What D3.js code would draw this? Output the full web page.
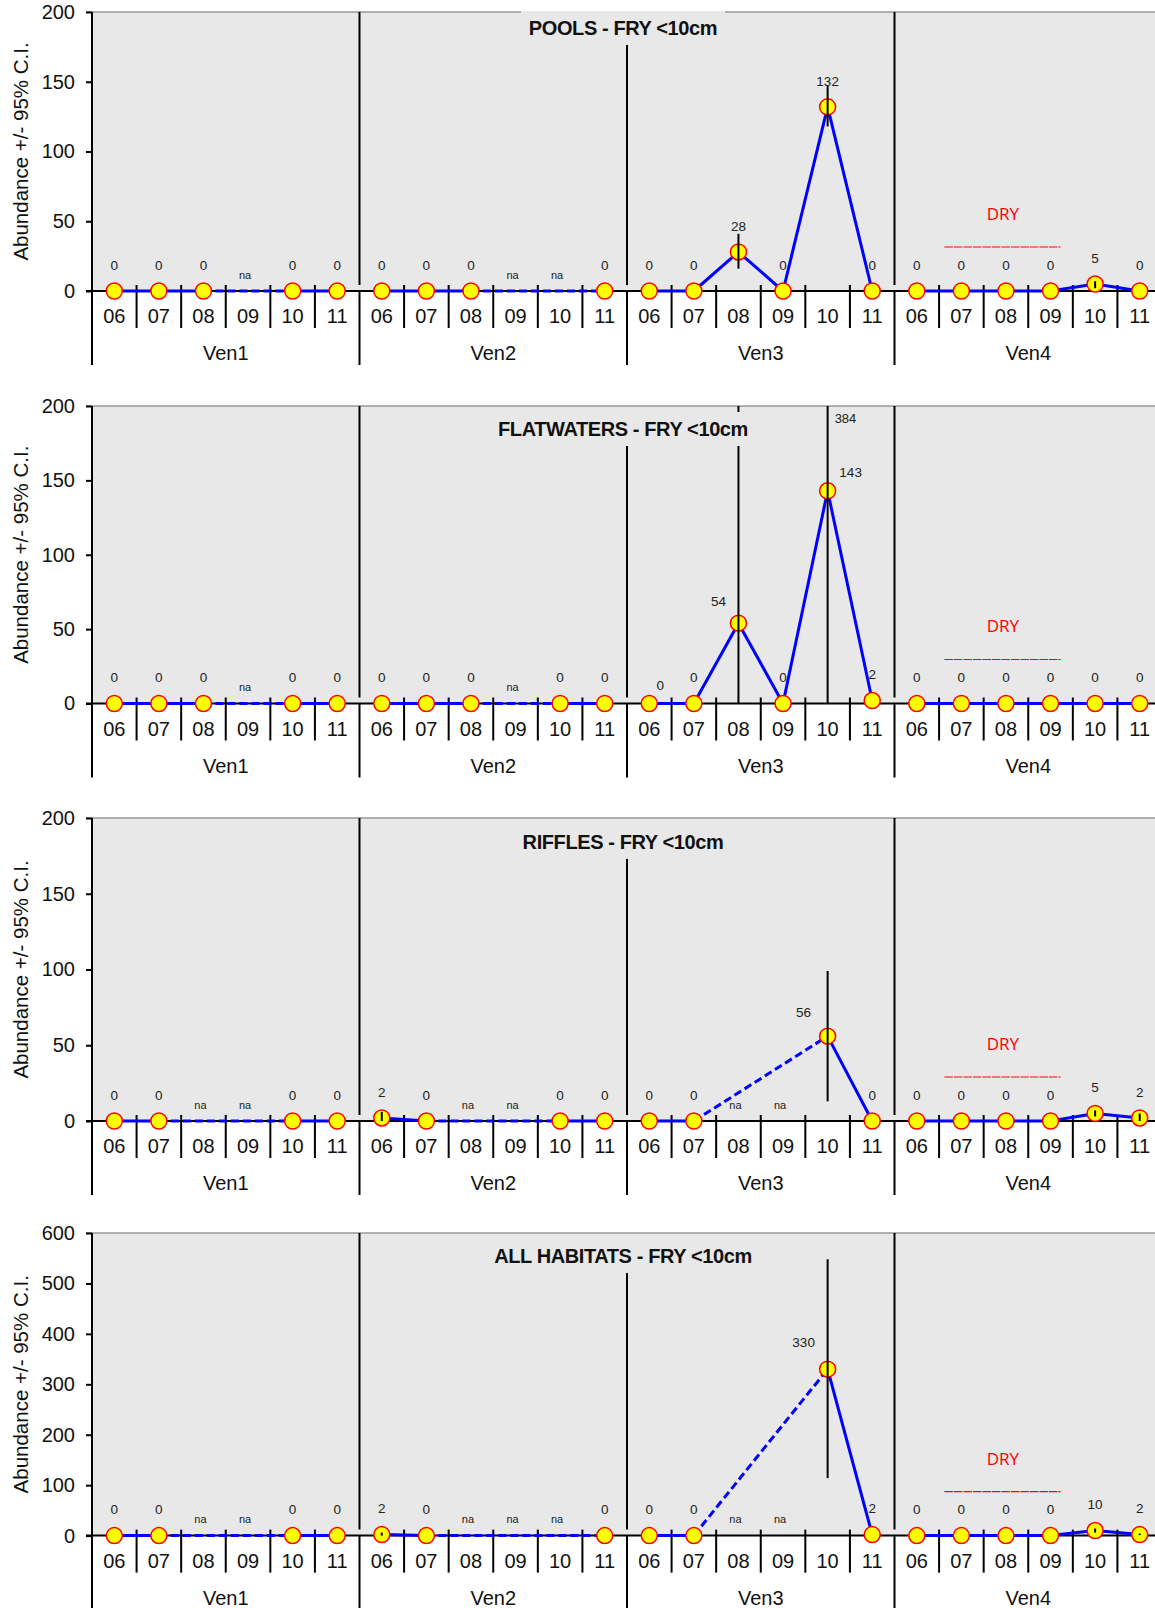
<!DOCTYPE html>
<html>
<head>
<meta charset="utf-8">
<script src="https://cdn.jsdelivr.net/npm/d3@7"></script>
<style>
body { margin: 0; background: #fff; }
svg { display: block; }
text { font-family: "Liberation Sans", Arial, sans-serif; }
</style>
</head>
<body>
<svg id="chart" width="1155" height="1608"></svg>
<script>
// ---- data ----
const sites = ["Ven1", "Ven2", "Ven3", "Ven4"];
const months = ["06", "07", "08", "09", "10", "11"];
const titles = ["POOLS - FRY <10cm", "FLATWATERS - FRY <10cm", "RIFFLES - FRY <10cm", "ALL HABITATS - FRY <10cm"];
const yMaxes = [200, 200, 200, 600];
const ySteps = [50, 50, 50, 100];

// abundance per site/month, null = na
const pools      = [0, 0, 0, null, 0, 0,   0, 0, 0, null, null, 0,     0, 0, 28, 0, 132, 0,        0, 0, 0, 0, 5, 0];
const flatwaters = [0, 0, 0, null, 0, 0,   0, 0, 0, null, 0, 0,        0, 0, 54, 0, 143, 2,        0, 0, 0, 0, 0, 0];
const riffles    = [0, 0, null, null, 0, 0, 2, 0, null, null, 0, 0,    0, 0, null, null, 56, 0,    0, 0, 0, 0, 5, 2];
const allHab     = [0, 0, null, null, 0, 0, 2, 0, null, null, null, 0, 0, 0, null, null, 330, 2,   0, 0, 0, 0, 10, 2];

// 95% C.I. : [index, lower, upper]
const poolsCI   = [[14, 16, 41], [16, 118, 147], [22, 2, 7]];
const flatCI    = [[14, -5, 215], [16, -10, 384]];
const rifflesCI = [[6, -1, 6], [16, 13, 99], [22, 3, 7], [23, -1, 5]];
const allCI     = [[6, 0, 6], [16, 114, 548], [22, 6, 14], [23, 1, 4]];

// upper limits that run off the chart get their value written at the top
const ciNotes = [[1, 16, "384"]];
// Ven4 07..09 dry
const dryRange = [19, 21];

// ---- layout ----
const W = 1155;
const x0 = 92, x1 = 1162;
const panelTop  = [12, 406, 818, 1233];
const panelZero = [291, 703.5, 1121, 1535.6];
const titleDy   = [16, 23, 24, 23];
// hand-placed data labels in the original: "panel-index": [dx, dy]
const labelNudge = { "1-12": [11, 8], "1-14": [-20, 4], "1-16": [23, 7], "2-16": [-24, 2], "3-16": [-24, -1] };

const valueSets = [pools, flatwaters, riffles, allHab];
const ciSets = [poolsCI, flatCI, rifflesCI, allCI];

const svg = d3.select("#chart");
const idx = d3.range(sites.length * months.length);
const x = d3.scaleBand().domain(idx).range([x0, x1]).padding(0);
const bw = x.bandwidth();
const cx = i => x(i) + bw / 2;

valueSets.forEach((values, p) => {
    const top = panelTop[p], zero = panelZero[p];
    const ty = top + titleDy[p];
    const y = d3.scaleLinear().domain([0, yMaxes[p]]).range([zero, top]);
    const g = svg.append("g").attr("class", "panel");

    // plot background + top border
    g.append("rect")
        .attr("x", x0).attr("y", top)
        .attr("width", x1 - x0).attr("height", zero - top)
        .attr("fill", "#e8e8e8");
    g.append("line")
        .attr("x1", x0 - 6).attr("x2", W)
        .attr("y1", top).attr("y2", top)
        .attr("stroke", "#999").attr("stroke-width", 1.5);

    // y axis
    const yAxis = d3.axisLeft(y)
        .tickValues(d3.range(0, yMaxes[p] + 1, ySteps[p]))
        .tickSize(6).tickPadding(11);
    const ya = g.append("g").attr("transform", `translate(${x0},0)`).call(yAxis);
    ya.select(".domain").remove();
    ya.selectAll(".tick line").attr("stroke", "#000").attr("stroke-width", 2);
    ya.selectAll(".tick text")
        .attr("font-size", 20).attr("fill", "#111")
        .style("font-family", "'Liberation Sans', Arial, sans-serif");
    g.append("line")
        .attr("x1", x0).attr("x2", x0)
        .attr("y1", top).attr("y2", zero + 74)
        .attr("stroke", "#000").attr("stroke-width", 2);

    g.append("text")
        .attr("transform", `translate(21,${(top + zero) / 2}) rotate(-90)`)
        .attr("text-anchor", "middle").attr("dy", "0.35em")
        .attr("font-size", 20.5).attr("fill", "#111")
        .text("Abundance +/- 95% C.I.");

    // site dividers inside the plot (the middle one starts under the title)
    [6, 12, 18].forEach(k => {
        g.append("line")
            .attr("x1", x(k)).attr("x2", x(k))
            .attr("y1", k === 12 ? ty + 17 : top).attr("y2", zero - 6)
            .attr("stroke", "#000").attr("stroke-width", 2);
    });

    // x axis line, month ticks, site dividers below
    g.append("line")
        .attr("x1", x0 - 6).attr("x2", W)
        .attr("y1", zero).attr("y2", zero)
        .attr("stroke", "#000").attr("stroke-width", 2);
    idx.forEach(i => {
        if (i % 6 === 0) {
            if (i > 0) {
                g.append("line")
                    .attr("x1", x(i)).attr("x2", x(i))
                    .attr("y1", zero).attr("y2", zero + 74)
                    .attr("stroke", "#000").attr("stroke-width", 2);
            }
        } else {
            g.append("line")
                .attr("x1", x(i)).attr("x2", x(i))
                .attr("y1", zero - 6).attr("y2", zero + 37)
                .attr("stroke", "#000").attr("stroke-width", 2);
        }
        g.append("text")
            .attr("x", cx(i)).attr("y", zero + 25)
            .attr("text-anchor", "middle").attr("dy", "0.35em")
            .attr("font-size", 20).attr("fill", "#111")
            .text(months[i % 6]);
    });
    sites.forEach((s, k) => {
        g.append("text")
            .attr("x", x(k * 6) + bw * 3).attr("y", zero + 62)
            .attr("text-anchor", "middle").attr("dy", "0.35em")
            .attr("font-size", 20).attr("fill", "#111")
            .text(s);
    });

    // series lines, one per site, dashed across the na months
    const line = d3.line().x(d => cx(d)).y(d => y(values[d]));
    sites.forEach((s, k) => {
        const pts = d3.range(k * 6, k * 6 + 6).filter(i => values[i] !== null);
        for (let j = 1; j < pts.length; j++) {
            const a = pts[j - 1], b = pts[j];
            g.append("path")
                .attr("d", line([a, b]))
                .attr("fill", "none")
                .attr("stroke", "#0000ff").attr("stroke-width", 3)
                .attr("stroke-dasharray", b - a > 1 ? "8,4" : null);
        }
    });

    // markers
    g.selectAll("circle.pt")
        .data(idx.filter(i => values[i] !== null))
        .join("circle")
        .attr("class", "pt")
        .attr("cx", d => cx(d)).attr("cy", d => y(values[d]))
        .attr("r", 8)
        .attr("fill", "#ffff00").attr("stroke", "#ff0000").attr("stroke-width", 1.5);

    // confidence intervals
    const clampY = v => y(Math.max(0, Math.min(yMaxes[p], v)));
    ciSets[p].forEach(([i, lo, hi]) => {
        g.append("line")
            .attr("x1", cx(i)).attr("x2", cx(i))
            .attr("y1", clampY(lo)).attr("y2", clampY(hi))
            .attr("stroke", "#000").attr("stroke-width", 2);
    });
    ciNotes.filter(n => n[0] === p).forEach(([, i, txt]) => {
        g.append("text")
            .attr("x", cx(i) + 7).attr("y", top + 12)
            .attr("dy", "0.35em")
            .attr("font-size", 13).attr("fill", "#222")
            .text(txt);
    });

    // value labels
    idx.forEach(i => {
        const v = values[i];
        if (v === null) {
            g.append("text")
                .attr("x", cx(i) - 3).attr("y", zero - 16)
                .attr("text-anchor", "middle").attr("dy", "0.35em")
                .attr("font-size", 11).attr("fill", "#222")
                .text("na");
        } else {
            const n = labelNudge[`${p}-${i}`] || [0, 0];
            g.append("text")
                .attr("x", cx(i) + n[0]).attr("y", y(v) - 26 + n[1])
                .attr("text-anchor", "middle").attr("dy", "0.35em")
                .attr("font-size", 13.5).attr("fill", "#222")
                .text(v);
        }
    });

    // title on its own grey box
    const tx = (x0 + x1) / 2 - 4;
    const tBox = g.append("rect").attr("fill", "#e8e8e8");
    const t = g.append("text")
        .attr("x", tx).attr("y", ty)
        .attr("text-anchor", "middle").attr("dy", "0.35em")
        .attr("font-size", 20).attr("font-weight", "bold")
        .attr("letter-spacing", -0.4).attr("fill", "#111")
        .text(titles[p]);
    const bb = t.node().getBBox();
    tBox.attr("x", bb.x - 8).attr("y", ty - 17)
        .attr("width", bb.width + 16).attr("height", 34);

    // DRY note over Ven4
    const dx = (cx(dryRange[0]) + cx(dryRange[1])) / 2 - 3;
    g.append("text")
        .attr("x", dx).attr("y", zero - 77)
        .attr("text-anchor", "middle").attr("dy", "0.35em")
        .attr("font-size", 17).attr("fill", "#ff0000")
        .style("font-family", "'Open Sans', 'Noto Sans', sans-serif")
        .text("DRY");
    g.append("line")
        .attr("x1", cx(dryRange[0]) - 17).attr("x2", cx(dryRange[1]) + 10)
        .attr("y1", zero - 44).attr("y2", zero - 44)
        .attr("stroke", "#ff0000").attr("stroke-width", 1.2)
        .attr("stroke-dasharray", "8.5,1");
});
</script>
</body>
</html>
